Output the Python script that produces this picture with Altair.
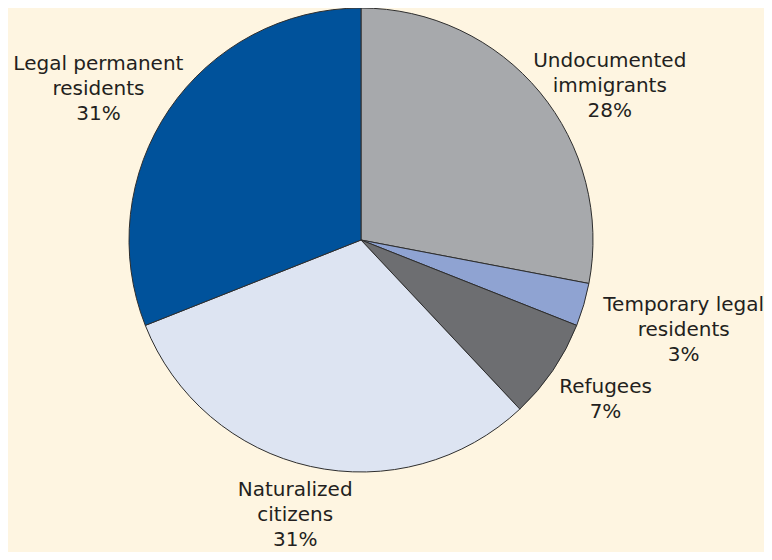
import altair as alt
import pandas as pd

categories = ["Undocumented immigrants", "Temporary legal residents", "Refugees",
              "Naturalized citizens", "Legal permanent residents"]
label_lines = ["Undocumented\nimmigrants", "Temporary legal\nresidents", "Refugees",
               "Naturalized\ncitizens", "Legal permanent\nresidents"]
shares = [28, 3, 7, 31, 31]
colors = ["#a7a9ac", "#8fa3d2", "#6d6e71", "#dde4f2", "#00529b"]

df = pd.DataFrame({
    "category": categories,
    "text": [f"{l}\n{s}%" for l, s in zip(label_lines, shares)],
    "share": shares,
    "order": list(range(len(categories))),
})

theta_scale = alt.Scale(domain=[0, 100])

base = alt.Chart(df).transform_window(
    cum="sum(share)", sort=[alt.SortField("order")]
).transform_calculate(
    start="datum.cum - datum.share",
    mid="datum.cum - datum.share / 2",
)

arcs = base.mark_arc(outerRadius=232, stroke="#2e2e2e", strokeWidth=1).encode(
    theta=alt.Theta("start:Q", scale=theta_scale),
    theta2="cum:Q",
    color=alt.Color("category:N", scale=alt.Scale(domain=categories, range=colors), legend=None),
)

# label placement per slice: radial distance and small nudges
placements = {
    "Undocumented immigrants": (293, 23, 8),
    "Temporary legal residents": (335, 1, -28),
    "Refugees": (292, 3, -17.5),
    "Naturalized citizens": (288, -3, -31),
    "Legal permanent residents": (303, -12, -6),
}

layers = [arcs]
for cat, (r, dx, dy) in placements.items():
    layers.append(
        base.transform_filter(alt.datum.category == cat).mark_text(
            radius=r, dx=dx, dy=dy, lineBreak="\n", fontSize=20, font="DejaVu Sans",
            color="#231f20", align="center", baseline="middle", lineHeight=25,
        ).encode(
            theta=alt.Theta("mid:Q", scale=theta_scale),
            text="text:N",
        )
    )

chart = alt.layer(*layers).properties(
    width=706, height=464,
    autosize=alt.AutoSizeParams(type="none"),
    padding={"left": 0, "top": 0, "right": 50, "bottom": 80},
    background="#fef5e1",
).configure_view(stroke=None)

chart.save("out.html", embed_options={"renderer": "svg", "actions": False})
